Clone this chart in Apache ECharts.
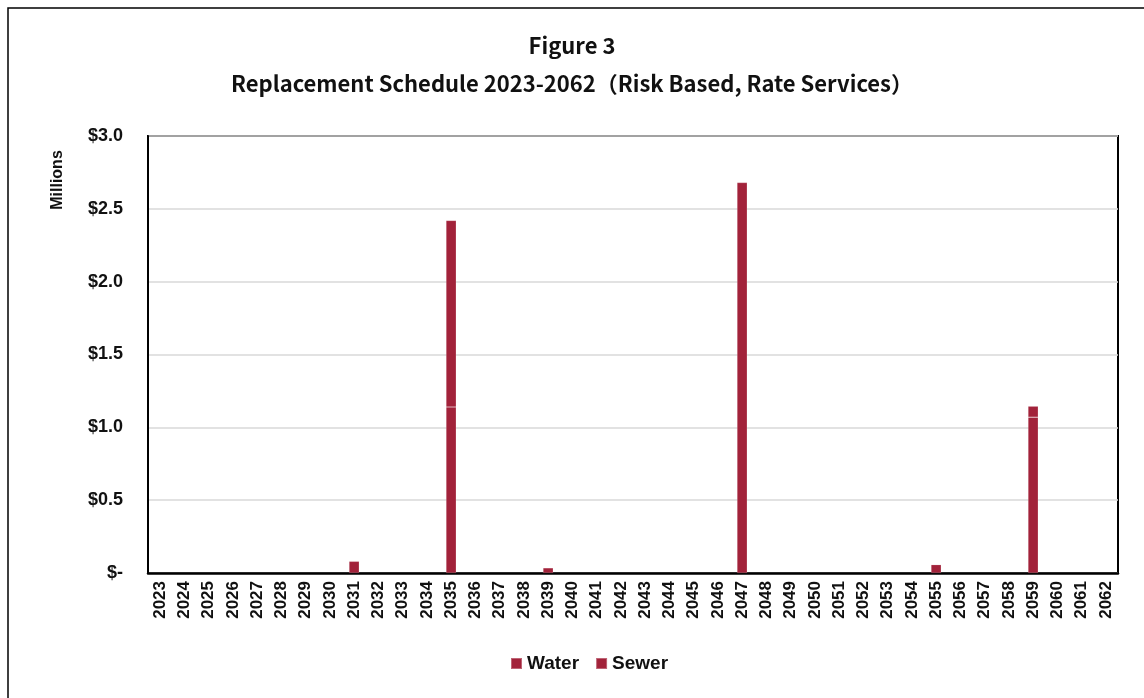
<!DOCTYPE html>
<html>
<head>
<meta charset="utf-8">
<script src="https://cdn.jsdelivr.net/npm/echarts@6/dist/echarts.min.js"></script>
<style>
  html, body { margin: 0; padding: 0; background: #fff; }
  #chart { width: 1144px; height: 698px; }
</style>
</head>
<body>
<div id="chart"></div>
<script>
// years on the x axis
const years = ['2023', '2024', '2025', '2026', '2027', '2028', '2029', '2030', '2031', '2032',
  '2033', '2034', '2035', '2036', '2037', '2038', '2039', '2040', '2041', '2042',
  '2043', '2044', '2045', '2046', '2047', '2048', '2049', '2050', '2051', '2052',
  '2053', '2054', '2055', '2056', '2057', '2058', '2059', '2060', '2061', '2062']

// values in millions
const water = [0, 0, 0, 0, 0, 0, 0, 0, 0.08, 0,
  0, 0, 1.14, 0, 0, 0, 0.035, 0, 0, 0,
  0, 0, 0, 0, 2.68, 0, 0, 0, 0, 0,
  0, 0, 0.057, 0, 0, 0, 1.07, 0, 0, 0]
const sewer = [0, 0, 0, 0, 0, 0, 0, 0, 0, 0,
  0, 0, 1.28, 0, 0, 0, 0, 0, 0, 0,
  0, 0, 0, 0, 0, 0, 0, 0, 0, 0,
  0, 0, 0, 0, 0, 0, 0.075, 0, 0, 0]

const barColor = '#A2223A'
const labelFont = '"Liberation Sans", Arial, sans-serif'
const titleFont = '"Noto Sans CJK JP", "Noto Sans", sans-serif'

// empty years get no bar at all
const toBars = arr => arr.map(v => (v ? v : '-'))

const chart = echarts.init(document.getElementById('chart'))

chart.setOption({
  animation: false,
  graphic: [{
    type: 'rect',
    shape: { x: 8, y: 8, width: 1160, height: 720 },
    style: { fill: 'none', stroke: '#000', lineWidth: 1.5 },
    silent: true
  }, {
    type: 'text',
    x: 58,
    y: 180,
    rotation: Math.PI / 2,
    style: {
      text: 'Millions',
      fontFamily: labelFont,
      fontWeight: 'bold',
      fontSize: 16,
      fill: '#111',
      align: 'center',
      verticalAlign: 'middle'
    },
    silent: true
  }],
  title: [{
    text: 'Figure 3',
    left: 'center',
    top: 30,
    textStyle: { fontFamily: titleFont, fontWeight: 'bold', fontSize: 22, color: '#111' }
  }, {
    text: 'Replacement Schedule 2023-2062（Risk Based, Rate Services）',
    left: 'center',
    top: 68,
    textStyle: { fontFamily: titleFont, fontWeight: 'bold', fontSize: 22, color: '#111' }
  }],
  legend: {
    bottom: 20,
    left: 505,
    icon: 'rect',
    itemWidth: 11,
    itemHeight: 11,
    itemGap: 16,
    data: ['Water', 'Sewer'],
    textStyle: { fontFamily: labelFont, fontWeight: 'bold', fontSize: 19, color: '#111' }
  },
  grid: {
    left: 148,
    right: 26,
    top: 136,
    bottom: 125,
    show: true,
    borderColor: '#000',
    borderWidth: 2
  },
  xAxis: {
    type: 'category',
    data: years,
    axisLine: { lineStyle: { color: '#000', width: 2.5 } },
    axisTick: { show: false },
    axisLabel: {
      rotate: 90,
      interval: 0,
      margin: 8,
      fontFamily: labelFont,
      fontWeight: 'bold',
      fontSize: 17,
      color: '#111'
    }
  },
  yAxis: {
    type: 'value',
    min: 0,
    max: 3,
    interval: 0.5,
    axisLine: { show: true, lineStyle: { color: '#000', width: 2 } },
    axisTick: { show: false },
    splitLine: { lineStyle: { color: '#d9d9d9', width: 1.5 } },
    axisLabel: {
      margin: 25,
      fontFamily: labelFont,
      fontWeight: 'bold',
      fontSize: 18,
      color: '#111',
      formatter: v => v === 0 ? '$-' : '$' + v.toFixed(1)
    }
  },
  series: [{
    name: 'Water',
    type: 'bar',
    stack: 'total',
    barWidth: '42%',
    data: toBars(water),
    itemStyle: { color: barColor, borderColor: 'rgba(255,255,255,0.3)', borderWidth: 0.5 }
  }, {
    name: 'Sewer',
    type: 'bar',
    stack: 'total',
    barWidth: '42%',
    data: toBars(sewer),
    itemStyle: { color: barColor, borderColor: 'rgba(255,255,255,0.3)', borderWidth: 0.5 }
  }]
})
</script>
</body>
</html>
